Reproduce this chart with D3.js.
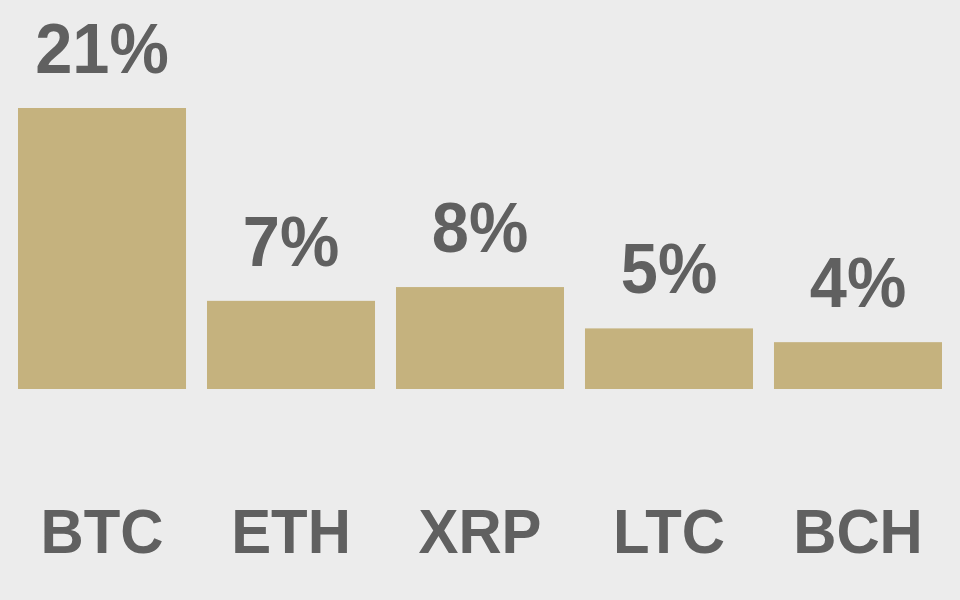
<!DOCTYPE html>
<html>
<head>
<meta charset="utf-8">
<script src="https://cdn.jsdelivr.net/npm/d3@7"></script>
<style>
  html, body { margin: 0; padding: 0; background: #ececec; }
  svg { display: block; }
</style>
</head>
<body>
<main></main>
<script>
const BG_COLOR = "#ececec";
const BAR_COLOR = "#c5b27e";
const TEXT_COLOR = "#606060";

// Coin categories and their share (%)
const coins = ["BTC", "ETH", "XRP", "LTC", "BCH"];
const shares = [21, 7, 8, 5, 4];

const width = 960;
const height = 600;
const baseline = 389;

const svg = d3
  .create("svg")
  .attr("width", width)
  .attr("height", height)
  .style("background", BG_COLOR);

const x = d3.scaleBand().domain(coins).range([18, 942]).paddingInner(0.111).paddingOuter(0);

// The bars don't start from zero in the original; fit the lowest value a bit above it.
const y = d3.scaleLinear().domain([0.6, 21]).range([baseline, 108]);

const data = coins.map((c, i) => ({ coin: c, value: shares[i] }));

svg
  .append("g")
  .selectAll("rect")
  .data(data)
  .join("rect")
  .attr("x", (d) => x(d.coin))
  .attr("y", (d) => y(d.value))
  .attr("width", x.bandwidth())
  .attr("height", (d) => baseline - y(d.value))
  .attr("fill", BAR_COLOR);

// Value labels above each bar; the glyphs are slightly condensed in the original.
svg
  .append("g")
  .selectAll("text")
  .data(data)
  .join("text")
  .attr("transform", (d) => "translate(" + (x(d.coin) + x.bandwidth() / 2) + "," + (y(d.value) - 35) + ") scale(0.94,1)")
  .attr("text-anchor", "middle")
  .attr("font-family", "'Liberation Sans', Arial, sans-serif")
  .attr("font-weight", "bold")
  .attr("font-size", 71)
  .attr("fill", TEXT_COLOR)
  .text((d) => d.value + "%");

// Category labels along the bottom
svg
  .append("g")
  .selectAll("text")
  .data(coins)
  .join("text")
  .attr("transform", (d) => "translate(" + (x(d) + x.bandwidth() / 2) + ",553) scale(0.95,1)")
  .attr("text-anchor", "middle")
  .attr("font-family", "'Liberation Sans', Arial, sans-serif")
  .attr("font-weight", "bold")
  .attr("font-size", 63)
  .attr("fill", TEXT_COLOR)
  .text((d) => d);

document.querySelector("main").append(svg.node());
</script>
</body>
</html>
